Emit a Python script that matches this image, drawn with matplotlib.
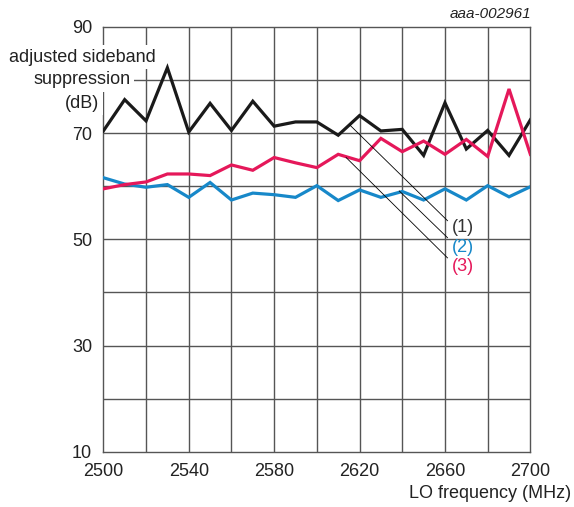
import matplotlib
matplotlib.use('Agg')
import matplotlib.pyplot as plt

'''
Data read from the reference chart
'''
freq = [2500, 2510, 2520, 2530, 2540, 2550, 2560, 2570, 2580, 2590, 2600,
        2610, 2620, 2630, 2640, 2650, 2660, 2670, 2680, 2690, 2700]
curve1 = [70.4, 76.3, 72.3, 82.3, 70.2, 75.6, 70.5, 76.0, 71.3, 72.1, 72.1,
          69.6, 73.3, 70.4, 70.7, 65.8, 75.7, 67.0, 70.5, 65.8, 72.5]
curve2 = [61.6, 60.4, 59.8, 60.3, 57.9, 60.7, 57.4, 58.7, 58.4, 57.9, 60.1,
          57.3, 59.3, 57.9, 59.0, 57.4, 59.5, 57.4, 60.1, 58.0, 59.9]
curve3 = [59.5, 60.3, 60.8, 62.3, 62.3, 62.0, 64.0, 63.0, 65.4, 64.4, 63.5,
          66.0, 64.8, 69.0, 66.5, 68.5, 66.0, 68.8, 65.6, 78.3, 66.0]
x_ticks = [2500, 2540, 2580, 2620, 2660, 2700]
y_ticks = [10, 30, 50, 70, 90]
names = ['(1)', '(2)', '(3)']

plt.rcParams['font.family'] = ['Liberation Sans', 'DejaVu Sans']

BLACK = '#1a1a1a'
BLUE = '#1788c9'
RED = '#e5185a'
GRID = '#555555'

fig = plt.figure(figsize=(5.74, 5.07), dpi=100)
ax = fig.add_axes([0.18, 0.109, 0.744, 0.838])

# grid every 20 MHz / 10 dB
for xv in range(2520, 2700, 20):
    ax.axvline(xv, color=GRID, lw=1.0, zorder=1)
for yv in range(20, 90, 10):
    ax.axhline(yv, color=GRID, lw=1.0, zorder=1)

ax.plot(freq, curve1, color=BLACK, lw=2.3, zorder=3, solid_joinstyle='miter')
ax.plot(freq, curve2, color=BLUE, lw=2.3, zorder=3, solid_joinstyle='miter')
ax.plot(freq, curve3, color=RED, lw=2.3, zorder=4, solid_joinstyle='miter')

ax.set_xlim(2500, 2700)
ax.set_ylim(10, 90)
ax.set_xticks(x_ticks)
ax.set_yticks(y_ticks)
ax.tick_params(length=0, labelsize=13, pad=8, colors='#222222')
for s in ax.spines.values():
    s.set_color(GRID)
    s.set_linewidth(1.0)

# leader lines to the curve labels
leaders = [((2615.5, 71.5), (2661.2, 53.5)),
           ((2638.6, 59.1), (2661.2, 50.3)),
           ((2613.7, 65.4), (2661.2, 46.5))]
label_y = [52.2, 48.4, 44.8]
label_col = ['#333333', BLUE, RED]
for (p0, p1), ly, name, c in zip(leaders, label_y, names, label_col):
    ax.plot([p0[0], p1[0]], [p0[1], p1[1]], color='black', lw=0.6, zorder=5)
    ax.text(2663.2, ly, name, color=c, fontsize=13, va='center', ha='left',
            zorder=6)

# y axis title with white boxes over grid
ylines = ['adjusted sideband', 'suppression', '(dB)']
ypos = [57, 80, 103]
for t, yp in zip(ylines, ypos):
    fig.text(82 / 574, 1 - yp / 507, t, fontsize=13, ha='center', va='center',
             color='#222222', zorder=10,
             bbox=dict(facecolor='white', edgecolor='none', pad=2.5))

fig.text(531 / 574, 1 - 14 / 507, 'aaa-002961', fontsize=11, style='italic',
         ha='right', va='center', color='#222222')
fig.text(571 / 574, 1 - 493 / 507, 'LO frequency (MHz)', fontsize=13,
         ha='right', va='center', color='#222222')

plt.savefig('out.png', dpi=100)
